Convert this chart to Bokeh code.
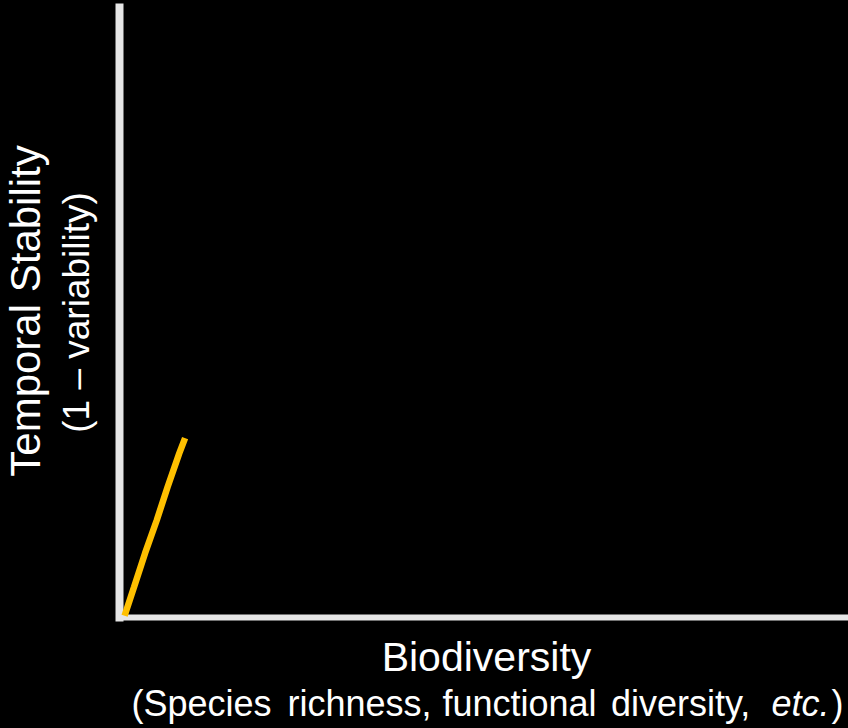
from bokeh.plotting import figure
from bokeh.models import Range1d, Label, FixedTicker
from bokeh.embed import file_html
from bokeh.resources import INLINE

# ---- data (curve is only partly revealed) ----
biodiversity = [0.7, 2.0, 3.5, 5.1, 6.6, 8.2, 9.0]
stability = [0.3, 5.0, 10.5, 15.9, 21.4, 26.9, 29.4]

y_title = "Temporal Stability"
y_subtitle = "(1 \u2013 variability)"
x_title = "Biodiversity"
x_sub_words = ["(Species", "richness,", "functional", "diversity,", "etc.", ")"]
x_sub_italic = [False, False, False, False, True, False]

FONT = "Liberation Sans"
AXIS_COLOR = "#E6E6E6"
CURVE_COLOR = "#FFC000"

# frame covers the whole canvas; the axes are drawn at data 0 with limited bounds
p = figure(width=848, height=728, output_backend="svg", toolbar_location=None,
           x_range=Range1d(-16.32, 100), y_range=Range1d(-18.2, 101.15),
           min_border=0)

p.background_fill_color = "black"
p.border_fill_color = "black"
p.outline_line_color = None
p.grid.visible = False

for ax in (p.xaxis[0], p.yaxis[0]):
    ax.ticker = FixedTicker(ticks=[])
    ax.major_tick_line_color = None
    ax.minor_tick_line_color = None
    ax.major_tick_out = 0
    ax.major_tick_in = 0
    ax.major_label_standoff = 0
    ax.major_label_text_font_size = "0px"
    ax.axis_line_color = AXIS_COLOR
    ax.axis_line_cap = "square"
    ax.fixed_location = 0
    ax.bounds = (0, 100)
p.xaxis[0].axis_line_width = 6
p.yaxis[0].axis_line_width = 8

r = p.line(biodiversity, stability, line_color=CURVE_COLOR, line_width=6.5)
r.level = "overlay"

# y labels (rotated)
p.add_layout(Label(x=-12.9, y=50.25, text=y_title,
                   angle=1.5707963, text_align="center", text_baseline="alphabetic",
                   text_font=FONT, text_font_size="42px", text_color="white"))
p.add_layout(Label(x=-5.9, y=50.0, text=y_subtitle,
                   angle=1.5707963, text_align="center", text_baseline="alphabetic",
                   text_font=FONT, text_font_size="37px", text_color="white"))

# x labels
p.add_layout(Label(x=50.34, y=-6.56, text=x_title,
                   text_align="center", text_baseline="alphabetic",
                   text_font=FONT, text_font_size="41px", text_color="white"))
x_sub_pos = [1.65, 23.05, 44.31, 67.42, 89.44, 97.67]
for w, it, xp in zip(x_sub_words, x_sub_italic, x_sub_pos):
    p.add_layout(Label(x=xp, y=-14.09, text=w,
                       text_align="left", text_baseline="alphabetic",
                       text_font=FONT, text_font_size="36px",
                       text_font_style="italic" if it else "normal",
                       text_color="white"))

html = file_html(p, INLINE)
html = html.replace("<head>", "<head><style>html,body{background:#000;}</style>", 1)
open("out.html", "w").write(html)
